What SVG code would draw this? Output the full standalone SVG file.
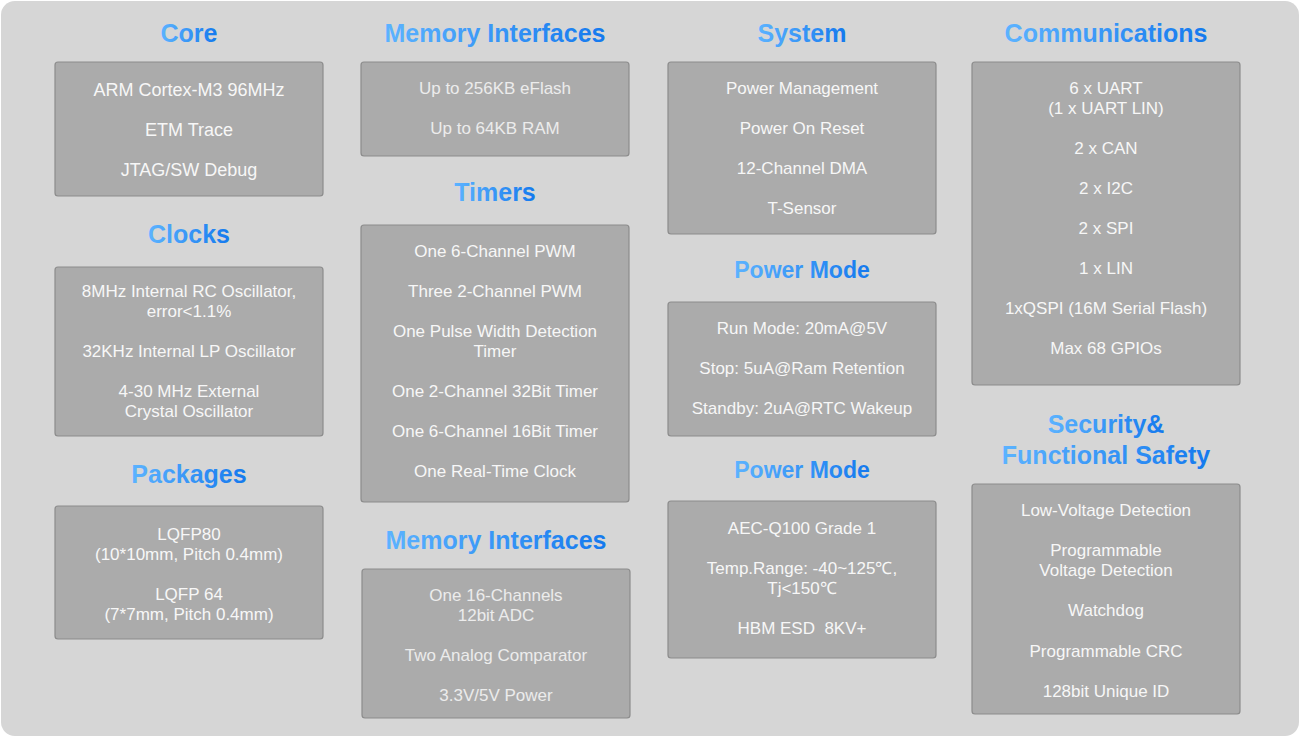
<svg xmlns="http://www.w3.org/2000/svg" width="1300" height="737" viewBox="0 0 1300 737">
<defs>
<linearGradient id="tg" x1="0" y1="0" x2="1" y2="0">
<stop offset="0" stop-color="#5cb3ff"/>
<stop offset="1" stop-color="#1479ee"/>
</linearGradient>
</defs>
<style>
.bg{fill:#d6d6d6;}
.box{fill:#ababab;stroke:#8c8c8c;stroke-width:1.2;}
.t{font-family:"Liberation Sans",Arial,sans-serif;font-weight:bold;font-size:25px;fill:url(#tg);text-anchor:middle;}
.ts{font-size:23px;}
.l{font-family:"Liberation Sans",Arial,sans-serif;font-size:17px;fill:#f7f7f7;text-anchor:middle;}
.lb{font-size:18px;}
.lm{fill:#ececec;}
</style>
<rect x="0" y="0" width="1300" height="737" fill="#ffffff"/>
<rect class="bg" x="1" y="1" width="1298" height="735" rx="14"/>

<g id="core">
<text class="t" x="189" y="42">Core</text>
<rect class="box" x="55" y="62" width="268" height="134" rx="3"/>
<text class="l lb" x="189" y="96">ARM Cortex-M3 96MHz</text>
<text class="l lb" x="189" y="136">ETM Trace</text>
<text class="l lb" x="189" y="176">JTAG/SW Debug</text>
</g>

<g id="clocks">
<text class="t" x="189" y="243">Clocks</text>
<rect class="box" x="55" y="267" width="268" height="169" rx="3"/>
<text class="l" x="189" y="297">8MHz Internal RC Oscillator,</text>
<text class="l" x="189" y="317">error&lt;1.1%</text>
<text class="l" x="189" y="357">32KHz Internal LP Oscillator</text>
<text class="l" x="189" y="397">4-30 MHz External</text>
<text class="l" x="189" y="417">Crystal Oscillator</text>
</g>

<g id="packages">
<text class="t" x="189" y="483">Packages</text>
<rect class="box" x="55" y="506" width="268" height="133" rx="3"/>
<text class="l" x="189" y="540">LQFP80</text>
<text class="l" x="189" y="560">(10*10mm, Pitch 0.4mm)</text>
<text class="l" x="189" y="600">LQFP 64</text>
<text class="l" x="189" y="620">(7*7mm, Pitch 0.4mm)</text>
</g>

<g id="memory">
<text class="t" x="495" y="42">Memory Interfaces</text>
<rect class="box" x="361" y="62" width="268" height="94" rx="3"/>
<text class="l lm" x="495" y="94">Up to 256KB eFlash</text>
<text class="l lm" x="495" y="134">Up to 64KB RAM</text>
</g>

<g id="timers">
<text class="t" x="495" y="201">Timers</text>
<rect class="box" x="361" y="225" width="268" height="277" rx="3"/>
<text class="l" x="495" y="257">One 6-Channel PWM</text>
<text class="l" x="495" y="297">Three 2-Channel PWM</text>
<text class="l" x="495" y="337">One Pulse Width Detection</text>
<text class="l" x="495" y="357">Timer</text>
<text class="l" x="495" y="397">One 2-Channel 32Bit Timer</text>
<text class="l" x="495" y="437">One 6-Channel 16Bit Timer</text>
<text class="l" x="495" y="477">One Real-Time Clock</text>
</g>

<g id="analog">
<text class="t" x="496" y="549">Memory Interfaces</text>
<rect class="box" x="362" y="569" width="268" height="149" rx="3"/>
<text class="l lm" x="496" y="601">One 16-Channels</text>
<text class="l lm" x="496" y="621">12bit ADC</text>
<text class="l lm" x="496" y="661">Two Analog Comparator</text>
<text class="l lm" x="496" y="701">3.3V/5V Power</text>
</g>

<g id="system">
<text class="t" x="802" y="42">System</text>
<rect class="box" x="668" y="62" width="268" height="172" rx="3"/>
<text class="l" x="802" y="94">Power Management</text>
<text class="l" x="802" y="134">Power On Reset</text>
<text class="l" x="802" y="174">12-Channel DMA</text>
<text class="l" x="802" y="214">T-Sensor</text>
</g>

<g id="powermode1">
<text class="t ts" x="802" y="278">Power Mode</text>
<rect class="box" x="668" y="302" width="268" height="134" rx="3"/>
<text class="l" x="802" y="334">Run Mode: 20mA@5V</text>
<text class="l" x="802" y="374">Stop: 5uA@Ram Retention</text>
<text class="l" x="802" y="414">Standby: 2uA@RTC Wakeup</text>
</g>

<g id="powermode2">
<text class="t ts" x="802" y="478">Power Mode</text>
<rect class="box" x="668" y="501" width="268" height="157" rx="3"/>
<text class="l" x="802" y="534">AEC-Q100 Grade 1</text>
<text class="l" x="802" y="574">Temp.Range: -40~125℃,</text>
<text class="l" x="802" y="594">Tj&lt;150℃</text>
<text class="l" x="802" y="634">HBM ESD&#160; 8KV+</text>
</g>

<g id="communications">
<text class="t" x="1106" y="42">Communications</text>
<rect class="box" x="972" y="62" width="268" height="323" rx="3"/>
<text class="l" x="1106" y="94">6 x UART</text>
<text class="l" x="1106" y="114">(1 x UART LIN)</text>
<text class="l" x="1106" y="154">2 x CAN</text>
<text class="l" x="1106" y="194">2 x I2C</text>
<text class="l" x="1106" y="234">2 x SPI</text>
<text class="l" x="1106" y="274">1 x LIN</text>
<text class="l" x="1106" y="314">1xQSPI (16M Serial Flash)</text>
<text class="l" x="1106" y="354">Max 68 GPIOs</text>
</g>

<g id="security">
<text class="t" x="1106" y="433">Security&amp;</text>
<text class="t" x="1106" y="464">Functional Safety</text>
<rect class="box" x="972" y="484" width="268" height="230" rx="3"/>
<text class="l" x="1106" y="516">Low-Voltage Detection</text>
<text class="l" x="1106" y="556">Programmable</text>
<text class="l" x="1106" y="576">Voltage Detection</text>
<text class="l" x="1106" y="616">Watchdog</text>
<text class="l" x="1106" y="657">Programmable CRC</text>
<text class="l" x="1106" y="697">128bit Unique ID</text>
</g>

<g id="connectors"></g>
</svg>
